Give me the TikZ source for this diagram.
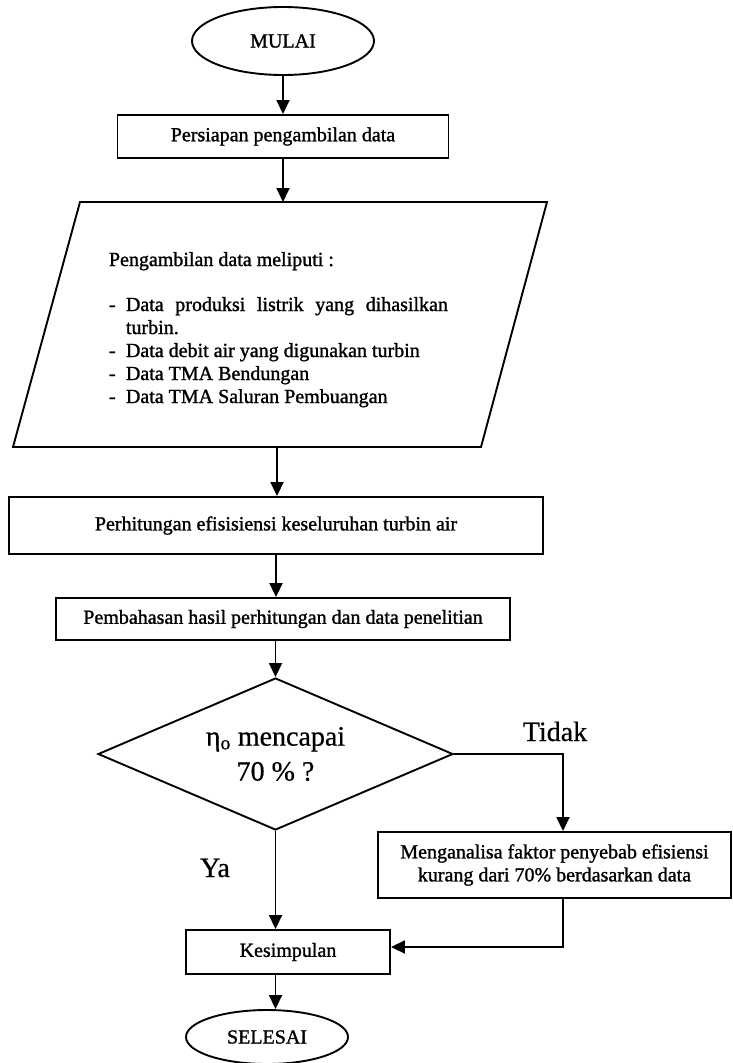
\documentclass[tikz,border=0pt]{standalone}
\usepackage{fontspec}
\setmainfont{Liberation Serif}
\newfontfamily\scanfont{Liberation Serif}[FakeBold=1.3]
\newfontfamily\scanbig{Liberation Serif}[FakeBold=0.6]
\usetikzlibrary{shapes.geometric,arrows.meta}
\begin{document}
\begin{tikzpicture}[x=1pt,y=-1pt,
  line width=1.9pt,
  every node/.style={font=\scanfont\fontsize{20}{23}\selectfont, inner sep=0pt},
  boxstyle/.style={draw, rectangle, align=center},
  termstyle/.style={draw, ellipse},
  arr/.style={-{Triangle[length=14pt,width=13pt]}, line width=1.8pt},
  txt/.style={anchor=base west},
  bigtxt/.style={font=\scanbig\fontsize{28}{35}\selectfont}
]
\fill[white] (0,0) rectangle (732,1063);
\useasboundingbox (0,0) rectangle (732,1063);

\node[termstyle, minimum width=182pt, minimum height=68pt] (mulai) at (283,41) {MULAI};
\node[boxstyle, minimum width=331pt, minimum height=43pt] (persiapan) at (283,136.5) {Persiapan pengambilan data};

% data-collection parallelogram
\coordinate (ptl) at (80,202);
\coordinate (ptr) at (547,202);
\coordinate (pbr) at (481,447);
\coordinate (pbl) at (13,447);
\draw (ptl) -- (ptr) -- (pbr) -- (pbl) -- cycle;
\coordinate (paratop) at (283,202);
\coordinate (parabot) at (277,447);
\node[txt] (head) at (108,266) {Pengambilan data meliputi :};
\node[txt] (d1) at (108,311) {-};
\node[txt] (i1) at (125,311) {\makebox[322pt][s]{Data produksi listrik yang dihasilkan}};
\node[txt] (i1b) at (125,334) {turbin.};
\node[txt] (d2) at (108,357) {-};
\node[txt] (i2) at (125,357) {Data debit air yang digunakan turbin};
\node[txt] (d3) at (108,380) {-};
\node[txt] (i3) at (125,380) {Data TMA Bendungan};
\node[txt] (d4) at (108,403) {-};
\node[txt] (i4) at (125,403) {Data TMA Saluran Pembuangan};

\node[boxstyle, minimum width=534pt, minimum height=57pt] (perhit) at (276,525.5) {Perhitungan efisisiensi keseluruhan turbin air};
\node[boxstyle, minimum width=454pt, minimum height=42pt] (pemb) at (283,619) {Pembahasan hasil perhitungan dan data penelitian};

\node[draw, diamond, aspect=2.34, minimum width=355pt, minimum height=152pt, align=center, bigtxt] (dec) at (275.5,754) {η\textsubscript{o} mencapai\\70 \% ?};

\node[boxstyle, minimum width=353pt, minimum height=66pt] (anal) at (554.5,865) {Menganalisa faktor penyebab efisiensi\\kurang dari 70\% berdasarkan data};
\node[boxstyle, minimum width=204pt, minimum height=44pt] (kes) at (288,952) {Kesimpulan};
\node[termstyle, minimum width=162pt, minimum height=54pt] (sel) at (267,1037) {SELESAI};

\node[anchor=base, bigtxt] (tidak) at (555,741) {Tidak};
\node[anchor=base, bigtxt] (ya) at (215,877) {Ya};

\draw[arr] (mulai.south) -- (persiapan.north);
\draw[arr] (persiapan.south) -- (paratop);
\draw[arr] (parabot) -- (parabot |- perhit.north);
\draw[arr] (perhit.south) -- (perhit.south |- pemb.north);
\draw[arr] (dec.north |- pemb.south) -- (dec.north);
\draw[arr] (dec.south) -- (dec.south |- kes.north);
\draw[arr] (dec.east) -| ([xshift=8.5pt]anal.north);
\draw[arr] ([xshift=8.5pt]anal.south) |- ([yshift=5pt]kes.east);
\draw[arr] (dec.south |- kes.south) -- (dec.south |- sel.north);
\end{tikzpicture}
\end{document}
